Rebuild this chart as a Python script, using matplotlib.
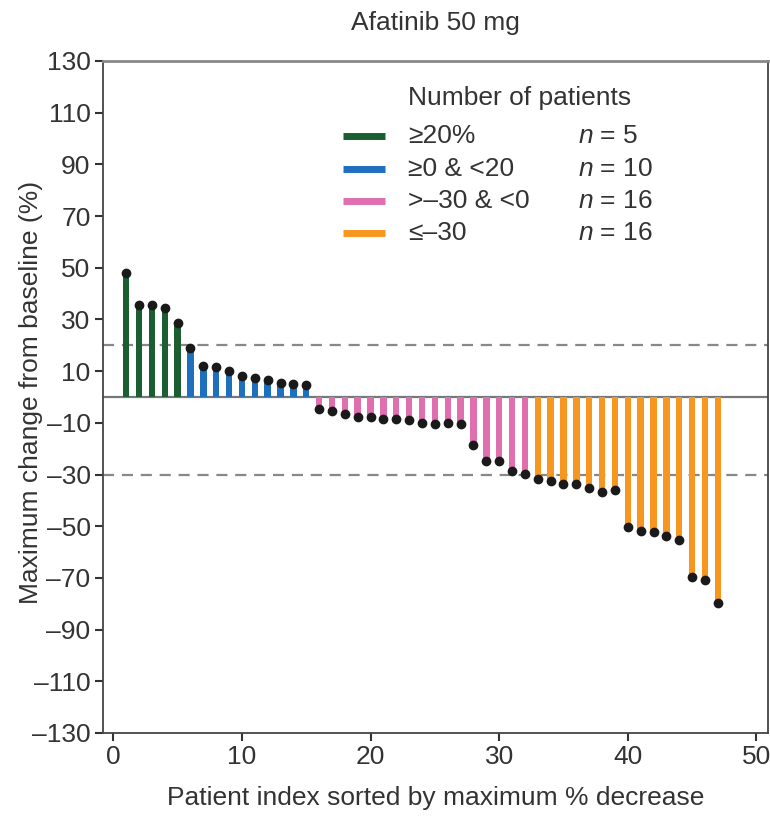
import numpy as np
import matplotlib.pyplot as plt
from matplotlib.lines import Line2D
from matplotlib.ticker import FuncFormatter

plt.rcParams['font.family'] = ['Liberation Sans', 'DejaVu Sans']
plt.rcParams['mathtext.fontset'] = 'custom'
plt.rcParams['mathtext.it'] = 'Liberation Sans:italic'
plt.rcParams['mathtext.rm'] = 'Liberation Sans'

# maximum % change from baseline, sorted
values = [48, 35.5, 35.5, 34.5, 28.5,
          19, 12, 11.5, 10, 8, 7.5, 6.5, 5.5, 5, 4.5,
          -4.7, -5.3, -6.4, -7.7, -7.9, -8.7, -8.7, -9, -10, -10.5,
          -10.2, -10.5, -18.5, -24.6, -24.6, -28.7, -29.8,
          -31.6, -32.6, -33.7, -33.8, -35.1, -36.8, -35.9, -50.4,
          -51.9, -52.3, -53.9, -55.2, -69.5, -70.8, -79.6]
patients = np.arange(1, len(values) + 1)

group_labels = ['≥20%', '≥0 & <20', '>–30 & <0', '≤–30']
group_counts = [5, 10, 16, 16]
group_colors = ['#1b5e32', '#1f6fbf', '#df6fae', '#f7971f']
thresholds = [20, 0, -30]

def group_of(v):
    if v >= thresholds[0]:
        return 0
    if v >= thresholds[1]:
        return 1
    if v > thresholds[2]:
        return 2
    return 3

colors = [group_colors[group_of(v)] for v in values]

fig = plt.figure(figsize=(7.7, 8.22), dpi=100)
ax = fig.add_axes([0.1338, 0.1083, 0.8636, 0.8175])

ax.axhline(0, color='#777777', lw=1.6, zorder=1)
for ref in [20, -30]:
    ax.axhline(ref, color='#888888', lw=1.6, ls=(0, (5, 3.5)), zorder=1)

ax.bar(patients, values, width=0.5, color=colors, zorder=2)
ax.plot(patients, values, 'o', color='#1a1a1a', ms=6, zorder=3)

ax.set_xlim(-0.8, 50.9)
ax.set_ylim(-130, 130)
ax.set_xticks(np.arange(0, 51, 10))
ax.set_yticks(np.arange(-130, 131, 20))
ax.yaxis.set_major_formatter(FuncFormatter(lambda v, p: f'{int(v)}'.replace('-', '–')))
ax.tick_params(labelsize=19, colors='#333333', length=6, width=1.5, pad=3)
for s in ['left', 'bottom', 'right']:
    ax.spines[s].set_color('#444444')
    ax.spines[s].set_linewidth(1.3)
ax.spines['top'].set_color('#888888')
ax.spines['top'].set_linewidth(2)

ax.set_title('Afatinib 50 mg', fontsize=19, color='#333333', pad=22)
ax.set_xlabel('Patient index sorted by maximum % decrease', fontsize=19,
              color='#333333', labelpad=12)
ax.set_ylabel('Maximum change from baseline (%)', fontsize=19,
              color='#333333')
ax.yaxis.set_label_coords(-0.091, 0.5075)

# legend
ax.text(0.459, 0.945, 'Number of patients', transform=ax.transAxes,
        fontsize=19, color='#333333', va='center')
row_y = [0.888, 0.840, 0.792, 0.744]
for lab, n, c, y in zip(group_labels, group_counts, group_colors, row_y):
    ax.add_line(Line2D([0.361, 0.424], [y, y], transform=ax.transAxes,
                       color=c, lw=5, solid_capstyle='butt'))
    ax.text(0.459, y, lab, transform=ax.transAxes, fontsize=19,
            color='#333333', va='center')
    ax.text(0.714, y, f'$n$ = {n}', transform=ax.transAxes, fontsize=19,
            color='#333333', va='center')

fig.savefig('out.png', dpi=100)
